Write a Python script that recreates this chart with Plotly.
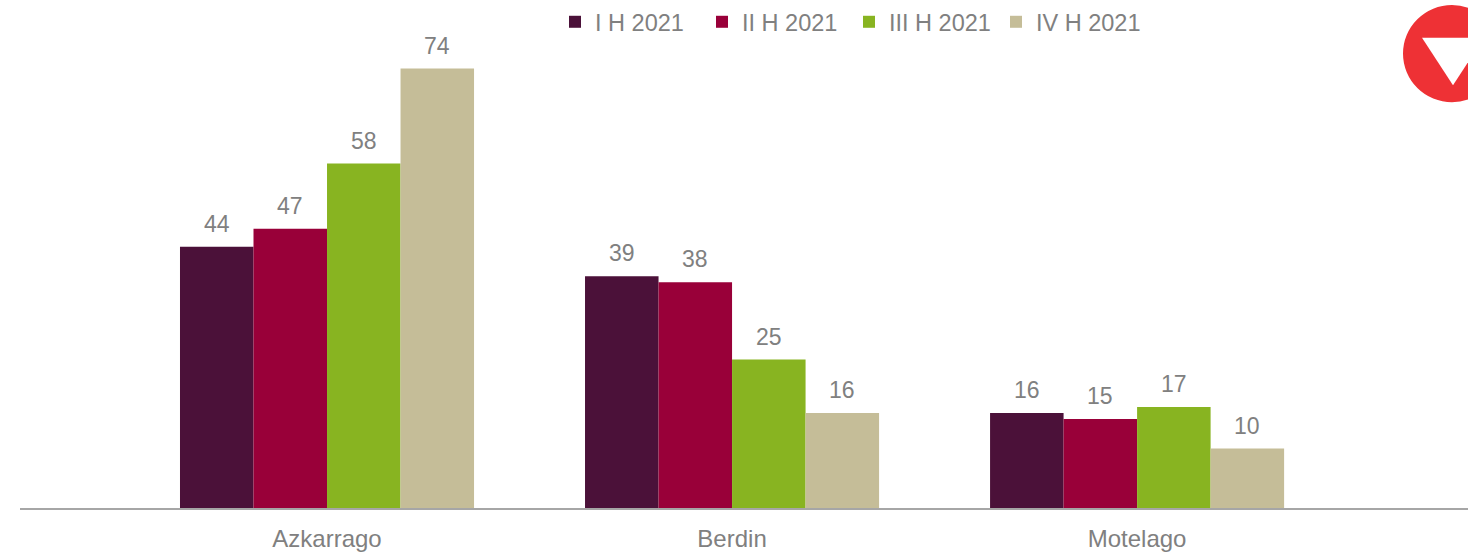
import plotly.graph_objects as go

categories = ["Azkarrago", "Berdin", "Motelago"]
series_names = ["I H 2021", "II H 2021", "III H 2021", "IV H 2021"]
values_1 = [44, 39, 16]
values_2 = [47, 38, 15]
values_3 = [58, 25, 17]
values_4 = [74, 16, 10]
colors = ["#4B1139", "#990039", "#88B421", "#C5BD98"]

W, H = 1468, 552
L, R, T, B = 20, 0, 0, 41
FONT = "Liberation Sans, Arial, sans-serif"
GREY = "#808080"
BARGAP = 0.274
X_RANGE = [-0.758, 2.817]

fig = go.Figure()
all_vals = [values_1, values_2, values_3, values_4]
for name, vals, col in zip(series_names, all_vals, colors):
    fig.add_trace(go.Bar(
        name=name, x=categories, y=vals,
        marker=dict(color=col, line=dict(width=0)),
        hoverinfo="skip",
    ))

pw, ph = W - L - R, H - T - B
unit_px = pw / (X_RANGE[1] - X_RANGE[0])
bar_px = unit_px * (1 - BARGAP) / len(series_names)
for i, vals in enumerate(all_vals):
    for cat, v in zip(categories, vals):
        fig.add_annotation(x=cat, y=v, xref="x", yref="y", text=str(v),
                           showarrow=False, yanchor="bottom",
                           xshift=(i - (len(series_names) - 1) / 2) * bar_px,
                           yshift=8,
                           font=dict(family=FONT, size=23, color=GREY))

def px(xs):
    return (xs - L) / pw
def py(ys):
    return (H - B - ys) / ph

cx, cy, r = 1452, 53, 49
fig.add_shape(type="circle", xref="paper", yref="paper",
              x0=px(cx - r), x1=px(cx + r), y0=py(cy + r), y1=py(cy - r),
              fillcolor="#EE3135", line=dict(width=0), layer="above")
fig.add_shape(type="path", xref="paper", yref="paper",
              path=f"M {px(1422)} {py(37)} L {px(1484)} {py(37)} L {px(1453)} {py(85)} Z",
              fillcolor="white", line=dict(width=0), layer="above")

fig.update_layout(
    width=W, height=H,
    margin=dict(l=L, r=R, t=T, b=B),
    paper_bgcolor="white", plot_bgcolor="white",
    barmode="group", bargap=BARGAP, bargroupgap=0,
    font=dict(family=FONT, size=22, color=GREY),
    showlegend=True,
    legend=dict(orientation="h", x=px(555), xanchor="left", y=py(-1), yanchor="top",
                font=dict(family=FONT, size=23.5, color=GREY),
                entrywidth=102, entrywidthmode="pixels",
                traceorder="normal", bgcolor="rgba(0,0,0,0)"),
    xaxis=dict(range=X_RANGE, showline=True, linecolor="#A6A6A6", linewidth=2,
               ticks="", showgrid=False, zeroline=False, ticklabelstandoff=8,
               fixedrange=True,
               tickfont=dict(family=FONT, size=24, color=GREY)),
    yaxis=dict(range=[0, 511 / 5.986], visible=False, showgrid=False, zeroline=False,
               fixedrange=True),
)

fig.write_html("out.html", config={"displayModeBar": False},
               post_script="document.body.style.margin='0';document.body.style.overflow='hidden';")
